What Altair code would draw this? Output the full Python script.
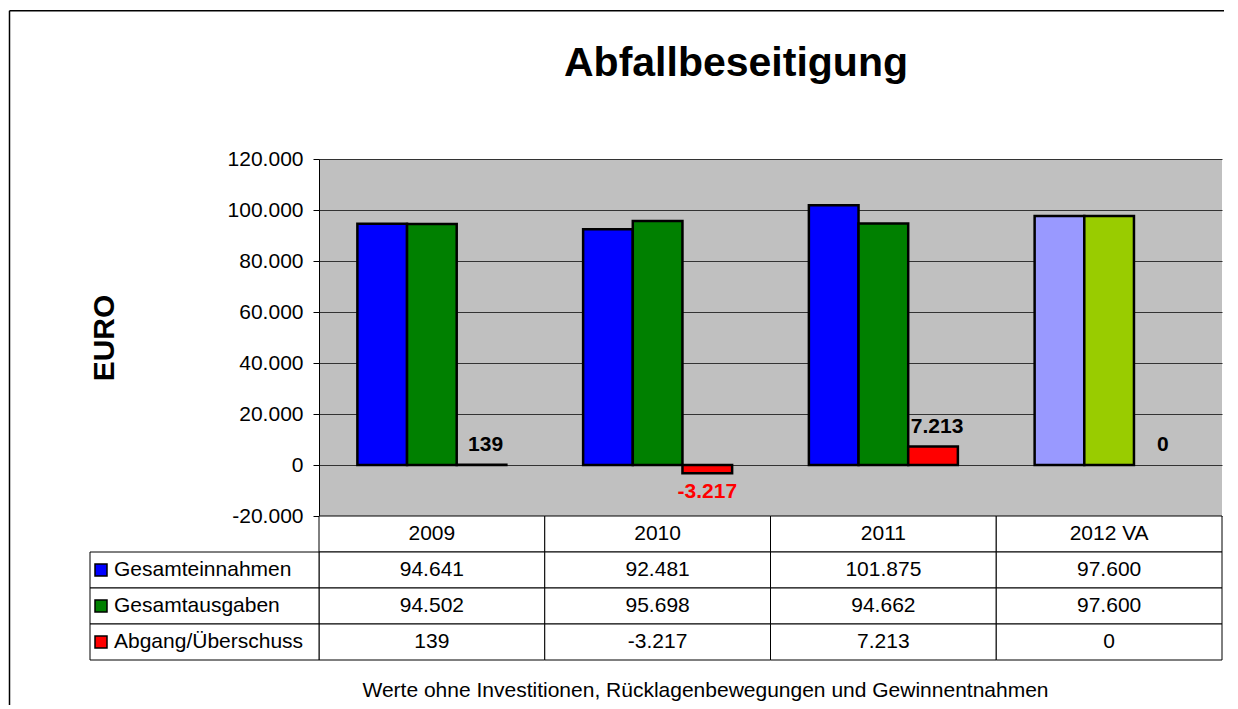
import altair as alt
import pandas as pd

# ---- data ----
years = ["2009", "2010", "2011", "2012 VA"]
series = ["Gesamteinnahmen", "Gesamtausgaben", "Abgang/Überschuss"]
einnahmen = [94641, 92481, 101875, 97600]
ausgaben = [94502, 95698, 94662, 97600]
saldo = [139, -3217, 7213, 0]

colors_actual = ["#0000FF", "#008000", "#FF0000"]
colors_plan = ["#9999FF", "#99CC00", "#FF0000"]

TITLE = "Abfallbeseitigung"
Y_TITLE = "EURO"
FOOTER = "Werte ohne Investitionen, Rücklagenbewegungen und Gewinnentnahmen"
HEADER_ROW = "Jahr"
y_ticks = [-20000, 0, 20000, 40000, 60000, 80000, 100000, 120000]

FONT = "Liberation Sans"


def de(v):
    return f"{v:,}".replace(",", ".")


rows = []
for s, vals in zip(series, [einnahmen, ausgaben, saldo]):
    for yr, v in zip(years, vals):
        rows.append({"year": yr, "series": s, "value": v, "label": de(v)})
df = pd.DataFrame(rows)

cells = [{"row": HEADER_ROW, "year": yr, "text": yr} for yr in years]
for s, vals in zip(series, [einnahmen, ausgaben, saldo]):
    for yr, v in zip(years, vals):
        cells.append({"row": s, "year": yr, "text": de(v)})
cells_df = pd.DataFrame(cells)
lab_df = pd.DataFrame({"row": series})
one = pd.DataFrame({"a": [0]})

W = 903
H_BAR = 357
H_TAB = 144

# ---- bar chart ----
color_scale = alt.Scale(domain=series + [s + " VA" for s in series],
                        range=colors_actual + colors_plan)
base = alt.Chart(df).transform_calculate(
    key="indexof(datum.year, 'VA') >= 0 ? datum.series + ' VA' : datum.series"
)
x_enc = alt.X("year:N", scale=alt.Scale(domain=years, paddingInner=0.34, paddingOuter=0.17), axis=None)
xo_enc = alt.XOffset("series:N", scale=alt.Scale(domain=series, paddingInner=0, paddingOuter=0))
y_enc = alt.Y(
    "value:Q",
    scale=alt.Scale(domain=[-20000, 120000], nice=False),
    axis=alt.Axis(
        values=y_ticks,
        labelExpr="replace(replace(format(datum.value, ','), regexp(',', 'g'), '.'), '\u2212', '-')",
        labelFont=FONT, labelFontSize=21, labelColor="black", labelPadding=10,
        tickSize=6, tickColor="black", domainColor="black", domainWidth=1,
        grid=True, gridColor="#333333", gridWidth=1,
        title=Y_TITLE, titleFont=FONT, titleFontSize=30, titleFontWeight="bold",
        titleColor="black", titleX=-215, titleY=H_BAR / 2, titleBaseline="middle",
    ),
)

bars = base.transform_filter("datum.value != 0").mark_bar(stroke="black", strokeWidth=2.5).encode(
    x=x_enc, xOffset=xo_enc, y=y_enc,
    color=alt.Color("key:N", scale=color_scale, legend=None),
)
lab = base.transform_filter("datum.series == 'Abgang/Überschuss'")
pos_lab = lab.transform_filter("datum.value >= 0").mark_text(
    font=FONT, fontSize=21, fontWeight="bold", baseline="bottom", dy=-10, dx=4, color="black"
).encode(x=x_enc, xOffset=xo_enc, y=y_enc, text="label:N")
neg_lab = lab.transform_filter("datum.value < 0").mark_text(
    font=FONT, fontSize=21, fontWeight="bold", baseline="top", dy=8, color="#FF0000"
).encode(x=x_enc, xOffset=xo_enc, y=y_enc, text="label:N")

bar_chart = alt.layer(bars, pos_lab, neg_lab).properties(
    width=W, height=H_BAR,
    view=alt.ViewBackground(fill="#C0C0C0", stroke=None),
    title=alt.TitleParams(TITLE, font=FONT, fontSize=41, fontWeight="bold", color="black",
                          anchor="middle", frame="group", dx=-34.5, baseline="alphabetic", offset=31),
)

# ---- data table ----
tx = alt.X("year:N", scale=alt.Scale(domain=years, paddingInner=0, paddingOuter=0),
           axis=alt.Axis(title=FOOTER, labels=False, ticks=False, domain=False, grid=False,
                         titleFont=FONT, titleFontSize=21, titleFontWeight="normal", titleColor="black",
                         titleX=386, titleY=30, titleBaseline="middle"))
ty = alt.Y("row:N", scale=alt.Scale(domain=[HEADER_ROW] + series, paddingInner=0, paddingOuter=0), axis=None)

cell_rect = alt.Chart(cells_df).mark_rect(fill="white", stroke="black", strokeWidth=1).encode(x=tx, y=ty)
cell_text = alt.Chart(cells_df).mark_text(font=FONT, fontSize=21, color="black").encode(x=tx, y=ty, text="text:N")
lab_rect = alt.Chart(lab_df).mark_rect(fill="white", stroke="black", strokeWidth=1).encode(
    x=alt.value(-229), x2=alt.value(0), y=ty)
lab_text = alt.Chart(lab_df).mark_text(align="left", font=FONT, fontSize=21, color="black").encode(
    x=alt.value(-205), y=ty, text="row:N")
swatch = alt.Chart(lab_df).mark_point(shape="square", filled=True, size=144, stroke="black",
                                      strokeWidth=1.5, opacity=1).encode(
    x=alt.value(-218), y=ty,
    color=alt.Color("row:N", scale=alt.Scale(domain=series, range=colors_actual), legend=None))
frame_v = alt.Chart(one).mark_rule(color="black", strokeWidth=1.5).encode(
    x=alt.value(-309.5), y=alt.value(-505.25), y2=alt.value(189))
frame_h = alt.Chart(one).mark_rule(color="black", strokeWidth=1.5).encode(
    x=alt.value(-309.5), x2=alt.value(905), y=alt.value(-505.25))

table = alt.layer(cell_rect, cell_text, lab_rect, lab_text, swatch, frame_v, frame_h).properties(
    width=W, height=H_TAB,
    view=alt.ViewBackground(fill="white", stroke=None),
).resolve_scale(color="independent")

chart = alt.vconcat(bar_chart, table, spacing=0, bounds="flush").properties(
    padding={"left": 0, "top": 2, "right": 0, "bottom": 0}, background="white"
).configure_view(stroke=None)

chart.save("out.html", embed_options={"renderer": "svg", "actions": False})
